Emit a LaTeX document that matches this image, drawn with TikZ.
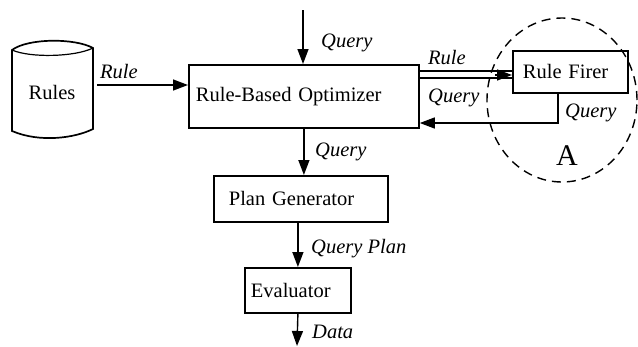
\documentclass[tikz,border=0pt]{standalone}
\usepackage{fontspec}
\setmainfont{Liberation Serif}
\usetikzlibrary{arrows.meta,calc}
\begin{document}
\begin{tikzpicture}[x=1pt,y=-1pt,
  every node/.style={font=\fontsize{20.5}{22}\selectfont},
  box/.style={draw, line width=1.8pt, align=left, inner ysep=0pt, anchor=north west},
  lab/.style={font=\fontsize{20.5}{22}\selectfont\itshape, anchor=west, inner sep=0pt},
  arr/.style={line width=1.4pt, -{Triangle[length=15pt,width=11pt]}},
  ln/.style={line width=1.4pt},
  ]
\useasboundingbox (0,0) rectangle (638,346);
% cylinder
\draw[line width=1.7pt] (12,50) .. controls (28,38) and (75,38) .. (93,48)
  -- (93,129) .. controls (75,138) and (40,143) .. (12,131) -- cycle;
\draw[line width=1.2pt] (12,50) .. controls (30,58) and (75,57) .. (93,48);
\node (rules) at (52,92) {Rules};
% boxes
\node[box, inner xsep=7pt, text width=216pt, minimum height=63pt] (opt) at (188,64) {Rule-Based Optimizer};
\node[box, inner xsep=15pt, text width=144pt, minimum height=46pt] (pg) at (213,175) {Plan Generator};
\node[box, inner xsep=6pt, text width=94pt, minimum height=45pt] (ev) at (244,267) {Evaluator};
\node[box, inner xsep=10pt, text width=95pt, minimum height=42pt] (rf) at (512,50) {Rule Firer};
% dashed circle
\draw[line width=1.4pt, dash pattern=on 9pt off 6pt] (562,100) ellipse [x radius=75pt, y radius=82pt];
\node[font=\fontsize{30}{32}\selectfont] (A) at (567,156) {A};
% connectors
\coordinate (qin) at (303,10);
\draw[arr] (qin) -- (qin |- opt.north);
\coordinate (rulesR) at (97,85);
\draw[arr] (rulesR) -- (rulesR -| opt.west);
\coordinate (ra) at (418,71);
\coordinate (rb) at (418,78);
\draw[ln] (ra -| opt.east) -- (ra -| rf.west);
\draw[ln] (rb -| opt.east) -- (rb -| rf.west);
\coordinate (rtip) at (512,75);
\draw[arr] ($(rtip)+(-17,0)$) -- (rtip -| rf.west);
\coordinate (rq) at (558,92);
\coordinate (rqy) at (418,123);
\draw[arr] (rq) |- (rqy -| opt.east);
\draw[arr] (opt.south) -- (opt.south |- pg.north);
\draw[arr] ([xshift=-3pt]pg.south) -- ([xshift=-3pt]pg.south |- ev.north);
\coordinate (dout) at (297,346);
\draw[arr] (ev.south) -- (dout);
% labels
\node[lab] (l1) at (321,43) {Query};
\node[lab] (l2) at (100,72) {Rule};
\node[lab] (l3) at (428,58) {Rule};
\node[lab] (l4) at (428,98) {Query};
\node[lab] (l5) at (565,113) {Query};
\node[lab] (l6) at (315,152) {Query};
\node[lab] (l7) at (311,249) {Query Plan};
\node[lab] (l8) at (312,332) {Data};
\end{tikzpicture}
\end{document}
